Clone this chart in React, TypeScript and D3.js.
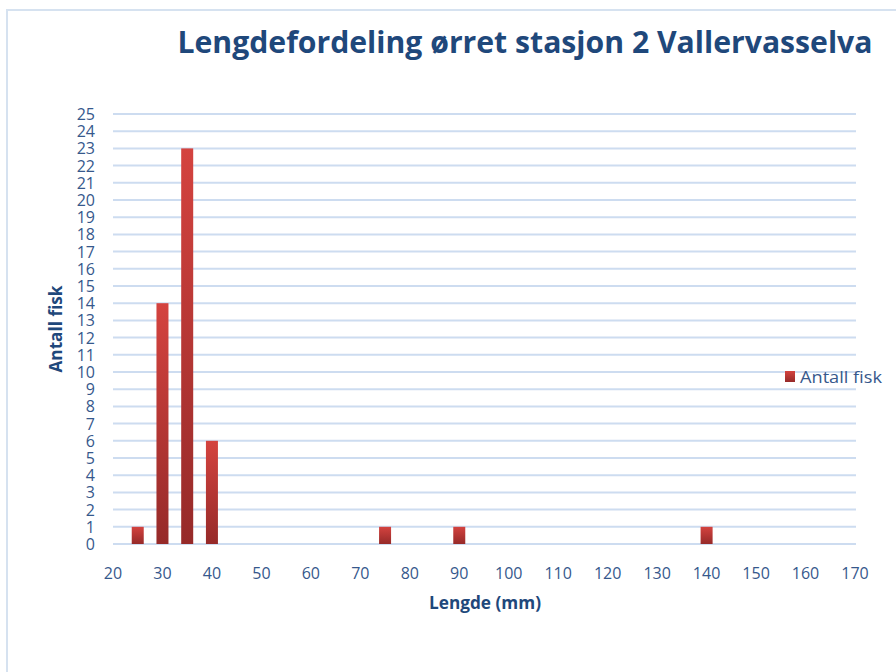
import React from "react";
import * as d3 from "d3";

// lengths (mm) and number of fish
const lengths = [25, 30, 35, 40, 75, 90, 140];
const counts = [1, 14, 23, 6, 1, 1, 1];
const xTicks = [20, 30, 40, 50, 60, 70, 80, 90, 100, 110, 120, 130, 140, 150, 160, 170];
const yTicks = d3.range(0, 26);

const W = 896;
const H = 672;
const font = "'Open Sans', sans-serif";
const tickColor = "#36588c";
const titleColor = "#1f487b";

const App = () => {
  const x = d3.scaleLinear().domain([20, 170]).range([113, 855]);
  const y = d3.scaleLinear().domain([0, 25]).range([544, 114]);
  const barW = 12;

  return (
    <div style={{ position: "absolute", left: 0, top: 0 }}>
      <svg width={W} height={H} style={{ display: "block", background: "#fff" }}>
        <defs>
          <linearGradient id="barGrad" x1="0" y1="0" x2="0" y2="1">
            <stop offset="0%" stopColor="#d4433f" />
            <stop offset="100%" stopColor="#962a29" />
          </linearGradient>
        </defs>

        {/* outer frame */}
        <rect x={7} y={10} width={W + 20} height={H + 20} fill="none" stroke="#d6e2f0" strokeWidth={2} />

        <text
          x={525}
          y={53}
          textAnchor="middle"
          fontFamily={font}
          fontWeight="bold"
          fontSize={30}
          fill={titleColor}
          textLength={695}
          lengthAdjust="spacingAndGlyphs"
        >
          Lengdefordeling ørret stasjon 2 Vallervasselva
        </text>

        {/* gridlines */}
        {yTicks.map((t) => (
          <line key={"g" + t} x1={113} x2={856} y1={y(t)} y2={y(t)} stroke="#cddcf0" strokeWidth={2} />
        ))}

        {/* y tick labels */}
        {yTicks.map((t) => (
          <text
            key={"yl" + t}
            x={95}
            y={y(t) + 6}
            textAnchor="end"
            fontFamily={font}
            fontSize={16}
            fill={tickColor}
          >
            {t}
          </text>
        ))}

        {/* x tick labels */}
        {xTicks.map((t) => (
          <text
            key={"xl" + t}
            x={x(t)}
            y={579}
            textAnchor="middle"
            fontFamily={font}
            fontSize={16}
            fill={tickColor}
          >
            {t}
          </text>
        ))}

        {/* bars */}
        {lengths.map((l, i) => (
          <rect
            key={"b" + l}
            x={x(l) - barW / 2}
            y={y(counts[i])}
            width={barW}
            height={y(0) - y(counts[i])}
            fill="url(#barGrad)"
          />
        ))}

        {/* axis titles */}
        <text
          x={485}
          y={609}
          textAnchor="middle"
          fontFamily={font}
          fontWeight="bold"
          fontSize={17}
          fill={titleColor}
          textLength={112}
          lengthAdjust="spacingAndGlyphs"
        >
          Lengde (mm)
        </text>
        <text
          transform={`translate(62,329) rotate(-90)`}
          textAnchor="middle"
          fontFamily={font}
          fontWeight="bold"
          fontSize={17}
          fill={titleColor}
          textLength={87}
          lengthAdjust="spacingAndGlyphs"
        >
          Antall fisk
        </text>

        {/* legend */}
        <rect x={785} y={371} width={10} height={11} fill="url(#barGrad)" />
        <text
          x={800}
          y={383}
          fontFamily={font}
          fontSize={17}
          fill={tickColor}
          textLength={82}
          lengthAdjust="spacingAndGlyphs"
        >
          Antall fisk
        </text>
      </svg>
    </div>
  );
};

export default App;
